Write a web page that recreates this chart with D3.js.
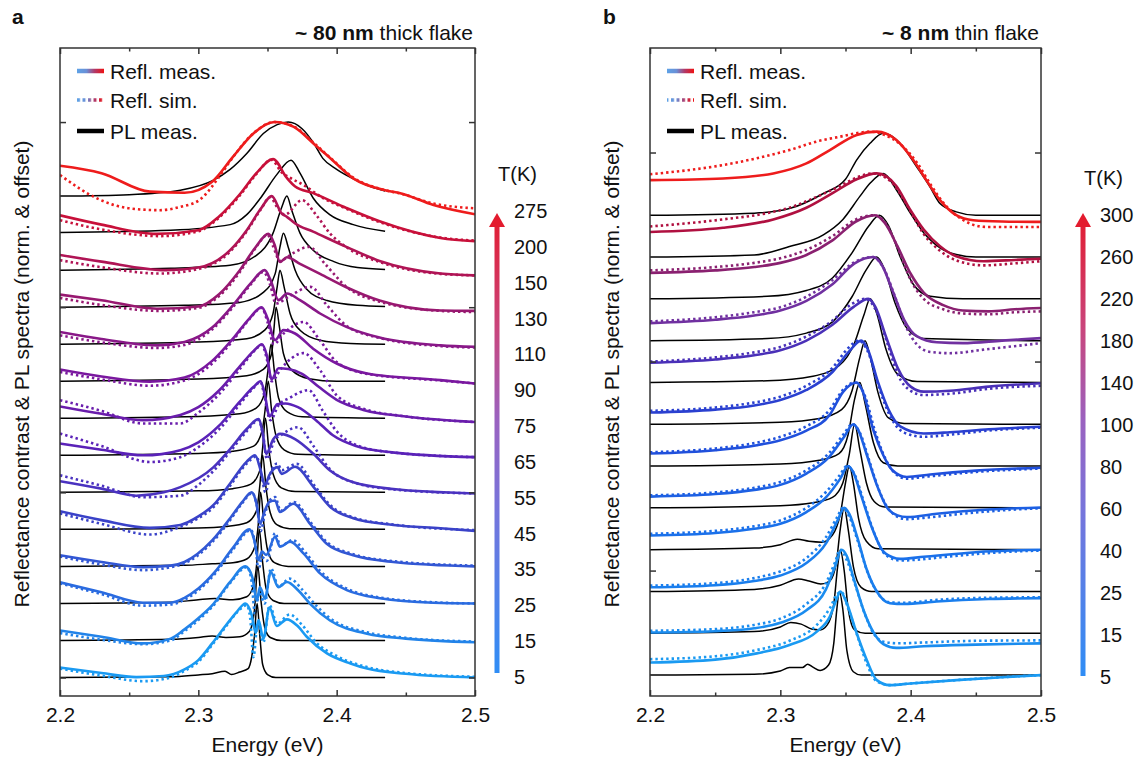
<!DOCTYPE html>
<html>
<head>
<meta charset="utf-8">
<title>Reflectance and PL vs temperature</title>
<style>
  body { margin: 0; background: #fff; }
  text { font-family: "Liberation Sans", Arial, sans-serif; }
</style>
</head>
<body>
<script src="https://cdn.jsdelivr.net/npm/d3@7"></script>
<script>
// ---- data: flat [E, value, E, value, ...] lists, value relative to each trace's offset ----
var energyTicks = [2.2, 2.3, 2.4, 2.5];
var energyMinor = [2.25, 2.35, 2.45];

// panel a: ~80 nm thick flake
var tempsA = [5, 15, 25, 35, 45, 55, 65, 75, 90, 110, 130, 150, 200, 275];
var reflMeasA = [
  [2.2,0.27, 2.23,0.12, 2.255,0.01, 2.275,0.04, 2.29,0.22, 2.30,0.47, 2.31,0.92, 2.32,1.41, 2.328,1.78, 2.334,2.0, 2.3385,1.7, 2.3415,1.2, 2.3435,1.55, 2.347,1.05, 2.3514,1.89, 2.3567,1.39, 2.364,1.57, 2.3712,1.41, 2.3784,1.1, 2.393,0.65, 2.41,0.38, 2.422,0.24, 2.45,0.1, 2.5,0.0],
  [2.2,0.27, 2.23,0.1, 2.26,-0.08, 2.28,0.05, 2.29,0.3, 2.30,0.6, 2.311,0.99, 2.323,1.58, 2.334,2.0, 2.339,1.71, 2.3424,1.08, 2.3445,1.44, 2.3482,1.13, 2.3523,1.85, 2.3579,1.44, 2.364,1.58, 2.3723,1.35, 2.3808,0.99, 2.3952,0.54, 2.422,0.18, 2.45,0.05, 2.5,-0.05],
  [2.2,0.57, 2.23,0.3, 2.26,0.02, 2.28,0.02, 2.29,0.15, 2.30,0.4, 2.312,0.85, 2.325,1.5, 2.337,2.0, 2.3405,1.7, 2.3435,1.17, 2.346,1.4, 2.349,1.31, 2.3555,1.8, 2.3591,1.53, 2.3663,1.67, 2.376,1.35, 2.388,0.81, 2.4073,0.36, 2.4314,0.14, 2.47,0.02, 2.5,0.0],
  [2.2,0.3, 2.23,0.12, 2.26,-0.02, 2.28,0.02, 2.29,0.12, 2.31,0.7, 2.323,1.3, 2.332,1.75, 2.3386,2.0, 2.342,1.7, 2.3446,1.15, 2.348,1.5, 2.3514,1.74, 2.3555,1.78, 2.359,1.47, 2.3687,1.69, 2.3808,1.15, 2.3928,0.61, 2.412,0.3, 2.441,0.12, 2.5,0.0],
  [2.2,0.49, 2.23,0.25, 2.265,0.04, 2.287,0.12, 2.30,0.35, 2.311,0.66, 2.323,1.24, 2.335,1.83, 2.341,2.0, 2.345,1.6, 2.348,1.2, 2.3514,1.47, 2.3571,1.68, 2.3603,1.5, 2.3699,1.69, 2.3832,1.15, 2.3952,0.61, 2.412,0.3, 2.441,0.12, 2.475,0.03, 2.5,-0.04],
  [2.2,0.30, 2.23,0.1, 2.255,-0.09, 2.275,0.0, 2.287,0.14, 2.311,0.68, 2.323,1.17, 2.335,1.71, 2.3435,1.98, 2.3465,1.6, 2.349,1.04, 2.3543,1.44, 2.3591,1.58, 2.3699,1.44, 2.3832,1.04, 2.3952,0.59, 2.412,0.27, 2.441,0.09, 2.5,-0.03],
  [2.2,0.32, 2.23,0.15, 2.26,0.0, 2.287,0.14, 2.30,0.35, 2.315,0.8, 2.33,1.45, 2.34,1.85, 2.345,2.0, 2.348,1.65, 2.3515,1.05, 2.357,1.38, 2.363,1.4, 2.372,1.3, 2.385,0.95, 2.397,0.55, 2.414,0.25, 2.44,0.08, 2.5,-0.05],
  [2.2,0.32, 2.23,0.12, 2.26,-0.05, 2.287,0.09, 2.30,0.3, 2.315,0.75, 2.33,1.4, 2.34,1.82, 2.346,2.0, 2.3495,1.7, 2.353,1.05, 2.358,1.35, 2.365,1.33, 2.375,1.2, 2.387,0.85, 2.4,0.5, 2.42,0.22, 2.45,0.05, 2.5,-0.1],
  [2.2,0.32, 2.23,0.13, 2.265,-0.01, 2.29,0.1, 2.31,0.55, 2.325,1.15, 2.337,1.7, 2.3458,2.0, 2.35,1.7, 2.3555,1.11, 2.3615,1.38, 2.3699,1.29, 2.383,0.88, 2.40,0.48, 2.422,0.21, 2.475,0.03, 2.5,-0.06],
  [2.2,0.33, 2.23,0.14, 2.27,-0.03, 2.29,0.06, 2.31,0.45, 2.325,1.05, 2.338,1.65, 2.348,2.0, 2.352,1.75, 2.358,1.19, 2.364,1.37, 2.3735,1.19, 2.388,0.83, 2.407,0.47, 2.431,0.18, 2.475,-0.03, 2.5,-0.07],
  [2.2,0.34, 2.23,0.19, 2.27,-0.04, 2.30,0.02, 2.315,0.35, 2.33,1.0, 2.341,1.6, 2.3507,1.98, 2.355,1.7, 2.359,1.22, 2.364,1.35, 2.3735,1.17, 2.388,0.9, 2.407,0.54, 2.431,0.18, 2.475,-0.09, 2.5,-0.1],
  [2.2,0.41, 2.23,0.23, 2.277,0.0, 2.30,0.07, 2.323,0.54, 2.335,1.08, 2.345,1.65, 2.353,2.0, 2.3603,1.53, 2.364,1.44, 2.37,1.26, 2.383,1.04, 2.407,0.63, 2.431,0.25, 2.475,-0.09, 2.5,-0.14],
  [2.2,0.48, 2.23,0.23, 2.27,-0.02, 2.30,0.08, 2.315,0.45, 2.33,1.05, 2.342,1.62, 2.354,2.0, 2.364,1.49, 2.37,1.26, 2.383,1.08, 2.407,0.68, 2.431,0.32, 2.475,-0.13, 2.5,-0.22],
  [2.2,0.82, 2.23,0.62, 2.265,0.12, 2.29,0.09, 2.31,0.39, 2.325,1.06, 2.34,1.7, 2.355,2.0, 2.369,1.87, 2.383,1.43, 2.397,0.97, 2.412,0.48, 2.435,0.16, 2.446,0.08, 2.47,-0.24, 2.5,-0.49]
];
var reflSimA = [
  [2.2,0.24, 2.23,0.05, 2.26,-0.1, 2.28,0.0, 2.29,0.18, 2.30,0.42, 2.31,0.88, 2.32,1.38, 2.328,1.76, 2.335,1.95, 2.3375,1.6, 2.3398,0.55, 2.343,1.5, 2.347,0.95, 2.3515,1.95, 2.357,1.45, 2.366,1.7, 2.375,1.42, 2.385,0.95, 2.40,0.58, 2.422,0.28, 2.45,0.12, 2.5,0.02],
  [2.2,0.2, 2.23,0.02, 2.26,-0.1, 2.28,0.0, 2.29,0.25, 2.30,0.55, 2.311,0.95, 2.323,1.55, 2.335,1.98, 2.3385,1.6, 2.341,0.7, 2.344,1.3, 2.348,1.0, 2.3525,1.95, 2.358,1.45, 2.366,1.67, 2.375,1.38, 2.385,0.95, 2.3952,0.6, 2.422,0.22, 2.45,0.07, 2.5,-0.03],
  [2.2,0.54, 2.23,0.25, 2.26,-0.06, 2.28,-0.03, 2.29,0.1, 2.30,0.35, 2.312,0.8, 2.325,1.45, 2.338,1.98, 2.3415,1.5, 2.3435,0.9, 2.346,1.25, 2.3495,1.15, 2.3555,1.9, 2.3595,1.55, 2.368,1.71, 2.378,1.35, 2.388,0.88, 2.4073,0.4, 2.4314,0.16, 2.47,0.03, 2.5,0.0],
  [2.2,0.27, 2.23,0.05, 2.26,-0.1, 2.28,-0.02, 2.29,0.08, 2.31,0.65, 2.323,1.25, 2.332,1.72, 2.339,1.98, 2.3425,1.6, 2.345,0.95, 2.348,1.4, 2.352,1.8, 2.3555,1.87, 2.3595,1.5, 2.369,1.74, 2.381,1.2, 2.3928,0.66, 2.412,0.33, 2.441,0.14, 2.5,0.02],
  [2.2,0.43, 2.23,0.15, 2.265,-0.14, 2.287,0.07, 2.30,0.3, 2.311,0.6, 2.323,1.18, 2.335,1.78, 2.342,1.97, 2.3455,1.5, 2.3485,1.0, 2.352,1.5, 2.357,1.78, 2.3605,1.6, 2.371,1.77, 2.3832,1.22, 2.3952,0.66, 2.412,0.32, 2.441,0.13, 2.5,-0.02],
  [2.2,0.46, 2.23,0.18, 2.26,-0.13, 2.287,-0.09, 2.30,0.2, 2.311,0.58, 2.323,1.1, 2.335,1.65, 2.3435,1.95, 2.347,1.5, 2.3495,0.9, 2.355,1.4, 2.36,1.55, 2.372,1.76, 2.3832,1.25, 2.3952,0.62, 2.412,0.27, 2.441,0.08, 2.5,-0.03],
  [2.2,0.59, 2.23,0.25, 2.265,-0.18, 2.287,-0.05, 2.30,0.22, 2.315,0.7, 2.33,1.38, 2.34,1.82, 2.345,1.98, 2.348,1.55, 2.352,0.95, 2.358,1.35, 2.366,1.55, 2.3796,1.76, 2.39,1.2, 2.4,0.65, 2.414,0.28, 2.44,0.08, 2.5,-0.05],
  [2.2,0.49, 2.23,0.2, 2.26,-0.14, 2.287,-0.14, 2.30,0.15, 2.315,0.65, 2.33,1.33, 2.34,1.8, 2.346,1.98, 2.3495,1.6, 2.353,1.0, 2.36,1.35, 2.376,1.76, 2.388,1.3, 2.4,0.62, 2.42,0.25, 2.45,0.05, 2.5,-0.1],
  [2.2,0.25, 2.23,0.05, 2.265,-0.12, 2.29,0.02, 2.31,0.48, 2.325,1.1, 2.337,1.68, 2.3458,1.98, 2.35,1.6, 2.3545,1.0, 2.362,1.3, 2.376,1.6, 2.388,1.1, 2.40,0.52, 2.422,0.2, 2.475,0.02, 2.5,-0.06],
  [2.2,0.24, 2.23,0.05, 2.27,-0.1, 2.29,-0.02, 2.31,0.4, 2.325,1.0, 2.338,1.62, 2.347,1.95, 2.352,1.6, 2.356,1.1, 2.366,1.3, 2.381,1.55, 2.393,1.05, 2.407,0.5, 2.431,0.17, 2.475,-0.05, 2.5,-0.09],
  [2.2,0.25, 2.23,0.06, 2.272,-0.1, 2.30,-0.02, 2.315,0.3, 2.33,0.95, 2.341,1.58, 2.35,1.95, 2.354,1.65, 2.359,1.25, 2.368,1.45, 2.38,1.63, 2.392,1.15, 2.407,0.55, 2.431,0.15, 2.475,-0.1, 2.5,-0.13],
  [2.2,0.27, 2.23,0.08, 2.272,-0.09, 2.30,0.03, 2.323,0.5, 2.335,1.05, 2.345,1.63, 2.352,1.97, 2.357,1.7, 2.3625,1.5, 2.375,1.89, 2.385,1.5, 2.395,1.0, 2.41,0.55, 2.431,0.22, 2.475,-0.1, 2.5,-0.14],
  [2.2,0.35, 2.23,0.1, 2.272,-0.08, 2.30,0.05, 2.315,0.42, 2.33,1.02, 2.342,1.6, 2.353,1.98, 2.36,1.65, 2.366,1.5, 2.376,1.3, 2.39,0.95, 2.407,0.66, 2.431,0.3, 2.475,-0.12, 2.5,-0.2],
  [2.2,0.57, 2.229,-0.1, 2.25,-0.33, 2.272,-0.38, 2.287,-0.29, 2.301,-0.1, 2.316,0.57, 2.325,1.05, 2.34,1.7, 2.355,2.0, 2.369,1.88, 2.383,1.45, 2.397,0.98, 2.412,0.5, 2.435,0.16, 2.446,0.07, 2.47,-0.2, 2.5,-0.33]
];
var plA = [
  [2.2,0, 2.28,0.02, 2.30,0.07, 2.31,0.1, 2.3193,0.17, 2.324,0.08, 2.33,0.15, 2.336,0.24, 2.3386,0.56, 2.3405,1.1, 2.3425,2.0, 2.3445,1.1, 2.3465,0.35, 2.35,0.08, 2.356,0.0, 2.435,0],
  [2.2,0, 2.28,0.03, 2.30,0.08, 2.31,0.12, 2.32,0.08, 2.33,0.1, 2.337,0.25, 2.3405,0.8, 2.343,2.0, 2.3455,1.0, 2.348,0.35, 2.352,0.08, 2.36,0, 2.435,0],
  [2.2,0, 2.28,0.03, 2.30,0.1, 2.312,0.13, 2.325,0.1, 2.335,0.18, 2.34,0.5, 2.3425,1.2, 2.344,2.0, 2.3465,1.1, 2.349,0.4, 2.354,0.08, 2.362,0, 2.435,0],
  [2.2,0, 2.29,0.03, 2.31,0.07, 2.325,0.1, 2.335,0.2, 2.341,0.55, 2.3435,1.2, 2.345,2.0, 2.3475,1.1, 2.35,0.45, 2.355,0.1, 2.365,0.0, 2.435,0],
  [2.2,0, 2.30,0.04, 2.32,0.08, 2.335,0.18, 2.342,0.5, 2.3445,1.2, 2.3465,2.0, 2.349,1.1, 2.352,0.45, 2.357,0.12, 2.366,0.02, 2.435,0],
  [2.2,0, 2.30,0.04, 2.325,0.1, 2.338,0.22, 2.3445,0.6, 2.3465,1.2, 2.3485,2.0, 2.351,1.15, 2.354,0.5, 2.36,0.12, 2.37,0.02, 2.435,0],
  [2.2,0, 2.30,0.05, 2.325,0.11, 2.34,0.25, 2.346,0.65, 2.3485,1.3, 2.3505,2.0, 2.353,1.2, 2.356,0.55, 2.362,0.15, 2.372,0.03, 2.435,0],
  [2.2,0, 2.30,0.05, 2.33,0.12, 2.342,0.28, 2.348,0.7, 2.3505,1.35, 2.3525,2.0, 2.3552,1.2, 2.358,0.55, 2.364,0.18, 2.375,0.04, 2.435,0],
  [2.2,0, 2.30,0.06, 2.335,0.15, 2.347,0.32, 2.353,0.75, 2.3548,1.47, 2.3562,2.0, 2.3586,1.47, 2.3615,0.75, 2.3675,0.3, 2.38,0.07, 2.40,0.0, 2.435,0],
  [2.2,0, 2.30,0.06, 2.335,0.15, 2.348,0.38, 2.354,0.83, 2.357,1.55, 2.359,2.0, 2.362,1.55, 2.3663,0.83, 2.3735,0.38, 2.388,0.11, 2.41,0.02, 2.435,0],
  [2.2,0, 2.29,0.05, 2.33,0.13, 2.347,0.4, 2.3555,0.9, 2.359,1.62, 2.3615,2.0, 2.365,1.62, 2.37,1.0, 2.378,0.5, 2.393,0.18, 2.415,0.05, 2.435,0.02],
  [2.2,0, 2.28,0.05, 2.323,0.13, 2.342,0.4, 2.354,1.0, 2.3603,1.7, 2.364,2.0, 2.3675,1.62, 2.3735,1.0, 2.383,0.54, 2.398,0.23, 2.415,0.07, 2.435,0.02],
  [2.2,0.02, 2.28,0.08, 2.323,0.23, 2.335,0.5, 2.345,0.95, 2.3567,1.58, 2.367,1.97, 2.3735,1.62, 2.383,0.95, 2.395,0.5, 2.412,0.23, 2.435,0.05],
  [2.2,0.0, 2.25,0.04, 2.287,0.16, 2.311,0.43, 2.323,0.72, 2.335,1.15, 2.347,1.69, 2.357,1.93, 2.365,2.0, 2.375,1.82, 2.383,1.45, 2.39,1.02, 2.40,0.72, 2.414,0.43, 2.425,0.25, 2.435,0.14]
];

// panel b: ~8 nm thin flake
var tempsB = [5, 15, 25, 40, 60, 80, 100, 140, 180, 220, 260, 300];
var reflMeasB = [
  [2.2,0.3, 2.25,0.37, 2.282,0.52, 2.307,0.72, 2.328,1.04, 2.338,1.4, 2.343,1.8, 2.346,2.0, 2.351,1.72, 2.3586,1.0, 2.3663,0.36, 2.374,-0.12, 2.384,-0.24, 2.40,-0.2, 2.435,-0.12, 2.47,-0.05, 2.5,0.0],
  [2.2,0.02, 2.25,0.05, 2.28,0.12, 2.30,0.25, 2.32,0.55, 2.335,1.05, 2.342,1.6, 2.347,2.0, 2.351,1.85, 2.356,1.34, 2.364,0.54, 2.3715,0.02, 2.379,-0.26, 2.389,-0.35, 2.41,-0.31, 2.45,-0.27, 2.5,-0.24],
  [2.2,0.1, 2.25,0.15, 2.28,0.25, 2.30,0.38, 2.32,0.68, 2.335,1.15, 2.344,1.7, 2.349,2.0, 2.353,1.85, 2.359,1.3, 2.366,0.55, 2.374,0.0, 2.384,-0.28, 2.395,-0.3, 2.42,-0.24, 2.46,-0.18, 2.5,-0.16],
  [2.2,0.34, 2.25,0.4, 2.28,0.5, 2.30,0.62, 2.32,0.9, 2.335,1.25, 2.346,1.7, 2.352,2.0, 2.356,1.85, 2.362,1.3, 2.37,0.55, 2.378,0.0, 2.386,-0.18, 2.392,-0.22, 2.41,-0.17, 2.45,-0.06, 2.5,0.0],
  [2.2,0.27, 2.25,0.33, 2.28,0.43, 2.30,0.55, 2.32,0.82, 2.337,1.2, 2.349,1.7, 2.356,2.0, 2.36,1.85, 2.366,1.3, 2.374,0.55, 2.382,0.0, 2.39,-0.18, 2.397,-0.22, 2.42,-0.14, 2.46,-0.04, 2.5,0.01],
  [2.2,0.3, 2.25,0.38, 2.282,0.5, 2.30,0.62, 2.32,0.85, 2.338,1.23, 2.348,1.77, 2.3586,2.0, 2.363,1.8, 2.3715,0.85, 2.379,0.26, 2.386,-0.1, 2.397,-0.26, 2.415,-0.2, 2.45,-0.11, 2.5,-0.04],
  [2.2,0.28, 2.25,0.35, 2.28,0.45, 2.30,0.58, 2.32,0.82, 2.34,1.25, 2.353,1.75, 2.362,2.0, 2.367,1.8, 2.375,1.0, 2.383,0.35, 2.392,-0.05, 2.41,-0.22, 2.43,-0.19, 2.46,-0.12, 2.5,-0.06],
  [2.2,0.47, 2.25,0.55, 2.28,0.65, 2.30,0.77, 2.32,1.0, 2.34,1.38, 2.356,1.8, 2.3675,2.0, 2.373,1.8, 2.381,1.1, 2.39,0.35, 2.40,-0.1, 2.41,-0.22, 2.43,-0.2, 2.46,-0.1, 2.5,-0.02],
  [2.2,0.42, 2.25,0.5, 2.28,0.6, 2.30,0.72, 2.32,0.95, 2.34,1.35, 2.357,1.85, 2.3714,2.0, 2.378,1.8, 2.386,1.2, 2.395,0.5, 2.405,0.1, 2.42,-0.04, 2.44,-0.06, 2.47,0.0, 2.5,0.06],
  [2.2,0.62, 2.25,0.68, 2.28,0.76, 2.30,0.86, 2.32,1.05, 2.34,1.4, 2.358,1.85, 2.3726,2.0, 2.38,1.82, 2.39,1.25, 2.40,0.6, 2.41,0.15, 2.425,-0.15, 2.44,-0.28, 2.46,-0.3, 2.48,-0.25, 2.5,-0.22],
  [2.2,0.6, 2.256,0.7, 2.2946,0.9, 2.32,1.18, 2.3407,1.54, 2.3586,1.86, 2.374,2.0, 2.389,1.7, 2.3995,1.14, 2.41,0.66, 2.4225,0.26, 2.435,0.02, 2.456,-0.1, 2.48,-0.07, 2.5,-0.04],
  [2.2,0.84, 2.256,0.88, 2.2946,1.0, 2.32,1.24, 2.338,1.56, 2.3586,1.92, 2.374,2.0, 2.389,1.8, 2.402,1.32, 2.412,0.84, 2.4225,0.36, 2.435,0.0, 2.448,-0.12, 2.47,-0.15, 2.5,-0.16]
];
var reflSimB = [
  [2.2,0.38, 2.25,0.45, 2.282,0.6, 2.307,0.82, 2.328,1.2, 2.338,1.6, 2.344,1.95, 2.347,1.98, 2.352,1.6, 2.359,0.95, 2.366,0.3, 2.374,-0.15, 2.384,-0.24, 2.40,-0.2, 2.435,-0.12, 2.47,-0.05, 2.5,0.0],
  [2.2,0.06, 2.25,0.1, 2.28,0.2, 2.30,0.35, 2.32,0.7, 2.335,1.2, 2.342,1.7, 2.346,2.0, 2.351,1.75, 2.357,1.2, 2.365,0.45, 2.3715,0.0, 2.379,-0.2, 2.39,-0.24, 2.41,-0.22, 2.45,-0.18, 2.5,-0.17],
  [2.2,0.14, 2.25,0.2, 2.28,0.32, 2.30,0.48, 2.32,0.8, 2.335,1.3, 2.344,1.8, 2.348,2.0, 2.353,1.78, 2.36,1.15, 2.367,0.45, 2.375,-0.05, 2.384,-0.26, 2.395,-0.27, 2.42,-0.2, 2.46,-0.15, 2.5,-0.14],
  [2.2,0.38, 2.25,0.45, 2.28,0.56, 2.30,0.7, 2.32,1.0, 2.335,1.38, 2.346,1.8, 2.351,2.0, 2.357,1.8, 2.364,1.15, 2.372,0.4, 2.38,-0.1, 2.392,-0.26, 2.405,-0.24, 2.43,-0.16, 2.47,-0.06, 2.5,-0.02],
  [2.2,0.3, 2.25,0.37, 2.28,0.48, 2.30,0.62, 2.32,0.9, 2.337,1.3, 2.349,1.78, 2.355,2.0, 2.361,1.8, 2.368,1.15, 2.376,0.4, 2.385,-0.1, 2.397,-0.27, 2.41,-0.24, 2.44,-0.14, 2.48,-0.04, 2.5,-0.01],
  [2.2,0.33, 2.25,0.42, 2.282,0.56, 2.30,0.7, 2.32,0.95, 2.338,1.35, 2.348,1.82, 2.357,2.0, 2.364,1.75, 2.373,0.8, 2.381,0.15, 2.389,-0.2, 2.397,-0.3, 2.41,-0.26, 2.45,-0.14, 2.5,-0.06],
  [2.2,0.32, 2.25,0.4, 2.28,0.52, 2.30,0.66, 2.32,0.92, 2.34,1.35, 2.352,1.82, 2.36,2.0, 2.367,1.75, 2.376,0.85, 2.385,0.15, 2.395,-0.2, 2.41,-0.3, 2.43,-0.25, 2.46,-0.15, 2.5,-0.08],
  [2.2,0.5, 2.25,0.6, 2.28,0.72, 2.30,0.85, 2.32,1.1, 2.34,1.48, 2.355,1.88, 2.365,2.0, 2.373,1.75, 2.382,0.95, 2.39,0.2, 2.40,-0.2, 2.41,-0.3, 2.43,-0.27, 2.46,-0.15, 2.5,-0.08],
  [2.2,0.46, 2.25,0.56, 2.28,0.68, 2.30,0.8, 2.32,1.05, 2.34,1.45, 2.357,1.88, 2.371,2.0, 2.379,1.75, 2.388,1.05, 2.397,0.3, 2.405,-0.1, 2.415,-0.27, 2.43,-0.3, 2.46,-0.2, 2.5,-0.06],
  [2.2,0.68, 2.25,0.76, 2.28,0.86, 2.30,0.97, 2.32,1.17, 2.34,1.5, 2.358,1.9, 2.372,2.0, 2.381,1.8, 2.391,1.15, 2.40,0.45, 2.41,0.0, 2.425,-0.25, 2.44,-0.35, 2.46,-0.37, 2.48,-0.32, 2.5,-0.3],
  [2.2,0.73, 2.256,0.9, 2.2946,1.08, 2.307,1.18, 2.325,1.4, 2.346,1.7, 2.36,1.92, 2.37,2.0, 2.385,1.8, 2.397,1.25, 2.41,0.55, 2.4225,0.15, 2.435,-0.08, 2.456,-0.2, 2.48,-0.15, 2.5,-0.1],
  [2.2,0.98, 2.256,1.2, 2.307,1.56, 2.33,1.78, 2.346,1.88, 2.36,1.97, 2.369,2.0, 2.38,1.92, 2.392,1.7, 2.405,1.25, 2.415,0.75, 2.425,0.3, 2.437,-0.05, 2.458,-0.28, 2.48,-0.28, 2.5,-0.28]
];
var plB = [
  [2.2,0, 2.28,0.02, 2.30,0.1, 2.307,0.18, 2.317,0.18, 2.321,0.26, 2.325,0.19, 2.3305,0.11, 2.337,0.24, 2.341,0.76, 2.3433,1.56, 2.3453,2.0, 2.348,1.56, 2.351,0.6, 2.356,0.08, 2.362,0, 2.5,0],
  [2.2,0, 2.28,0.04, 2.30,0.15, 2.308,0.26, 2.316,0.22, 2.324,0.1, 2.3305,0.08, 2.336,0.2, 2.341,0.7, 2.344,1.6, 2.346,2.0, 2.349,1.5, 2.352,0.6, 2.357,0.08, 2.365,0, 2.5,0],
  [2.2,0, 2.28,0.05, 2.30,0.15, 2.314,0.3, 2.322,0.25, 2.331,0.18, 2.338,0.25, 2.343,0.7, 2.346,1.5, 2.349,2.0, 2.352,1.5, 2.356,0.6, 2.362,0.1, 2.37,0, 2.5,0],
  [2.2,0, 2.28,0.04, 2.30,0.12, 2.313,0.25, 2.322,0.2, 2.332,0.18, 2.34,0.35, 2.346,0.85, 2.35,1.6, 2.353,2.0, 2.356,1.6, 2.36,0.75, 2.366,0.2, 2.375,0.02, 2.5,0],
  [2.2,0, 2.30,0.05, 2.325,0.12, 2.34,0.25, 2.348,0.6, 2.353,1.3, 2.357,2.0, 2.361,1.4, 2.366,0.6, 2.372,0.15, 2.38,0.02, 2.5,0],
  [2.2,0, 2.30,0.05, 2.33,0.14, 2.345,0.3, 2.352,0.75, 2.357,1.6, 2.361,2.0, 2.365,1.5, 2.3715,0.55, 2.379,0.08, 2.39,0, 2.5,0],
  [2.2,0, 2.30,0.05, 2.33,0.14, 2.347,0.35, 2.355,0.8, 2.361,1.6, 2.365,2.0, 2.369,1.6, 2.375,0.75, 2.383,0.15, 2.395,0.02, 2.5,0],
  [2.2,0, 2.29,0.04, 2.325,0.15, 2.345,0.4, 2.357,0.95, 2.364,1.6, 2.369,2.0, 2.374,1.65, 2.381,0.8, 2.39,0.2, 2.405,0.02, 2.5,0],
  [2.2,0, 2.29,0.05, 2.32,0.18, 2.34,0.45, 2.355,1.05, 2.366,1.7, 2.374,2.0, 2.38,1.7, 2.388,0.9, 2.397,0.3, 2.41,0.05, 2.5,0],
  [2.2,0, 2.29,0.06, 2.32,0.2, 2.34,0.5, 2.355,1.1, 2.368,1.75, 2.376,2.0, 2.383,1.75, 2.392,1.0, 2.402,0.35, 2.415,0.06, 2.44,0, 2.5,0],
  [2.2,0, 2.28,0.05, 2.307,0.25, 2.333,0.53, 2.348,0.9, 2.361,1.45, 2.369,1.77, 2.379,2.0, 2.389,1.61, 2.3995,1.06, 2.41,0.58, 2.4225,0.22, 2.435,0.06, 2.45,0, 2.5,0],
  [2.2,0, 2.28,0.05, 2.307,0.16, 2.333,0.52, 2.35,0.86, 2.3585,1.32, 2.3688,1.72, 2.379,1.96, 2.384,1.92, 2.394,1.64, 2.4046,1.16, 2.4148,0.68, 2.4225,0.28, 2.435,0.08, 2.45,0, 2.5,0]
];

// ---- drawing ----
var W = 1146, H = 757, TOP = 48, BOTTOM = 696;
var FONT = '"Liberation Sans", Arial, sans-serif';

var svg = d3.select("body").append("svg").attr("width", W).attr("height", H);
var defs = svg.append("defs");

function pairs(a) {
  var out = [];
  for (var i = 0; i < a.length; i += 2) out.push([a[i], a[i + 1]]);
  return out;
}

// legend swatch gradients
function hGrad(id) {
  var g = defs.append("linearGradient").attr("id", id).attr("x1", "0%").attr("x2", "100%");
  g.append("stop").attr("offset", "0%").attr("stop-color", "#5ea2e6");
  g.append("stop").attr("offset", "35%").attr("stop-color", "#6a8fd6");
  g.append("stop").attr("offset", "65%").attr("stop-color", "#b03a6a");
  g.append("stop").attr("offset", "100%").attr("stop-color", "#ee1111");
}
hGrad("legGrad");

function drawPanel(p) {
  var x = d3.scaleLinear().domain([2.2, 2.5]).range([p.x0, p.x1]);
  var y = d3.scaleLinear().domain([-0.5, p.yMax]).range([BOTTOM, TOP]);
  var color = d3.scaleLinear().domain(p.colorAt).range(p.colorStops).interpolate(d3.interpolateRgb);

  defs.append("clipPath").attr("id", "clip" + p.key)
    .append("rect").attr("x", p.x0).attr("y", TOP).attr("width", p.x1 - p.x0).attr("height", BOTTOM - TOP);

  var plot = svg.append("g").attr("clip-path", "url(#clip" + p.key + ")");

  function lineAt(off) {
    return d3.line().x(function (d) { return x(d[0]); })
      .y(function (d) { return y(d[1] + off); })
      .curve(d3.curveMonotoneX);
  }

  for (var i = p.temps.length - 1; i >= 0; i--) {
    plot.append("path").datum(pairs(p.pl[i])).attr("d", lineAt(i))
      .attr("fill", "none").attr("stroke", "#000").attr("stroke-width", 1.5);
    plot.append("path").datum(pairs(p.sim[i])).attr("d", lineAt(i))
      .attr("fill", "none").attr("stroke", color(i)).attr("stroke-width", 2.6)
      .attr("stroke-dasharray", "2.4 3");
    plot.append("path").datum(pairs(p.meas[i])).attr("d", lineAt(i))
      .attr("fill", "none").attr("stroke", color(i)).attr("stroke-width", 2.6);
  }

  // frame
  svg.append("rect").attr("x", p.x0).attr("y", TOP).attr("width", p.x1 - p.x0).attr("height", BOTTOM - TOP)
    .attr("fill", "none").attr("stroke", "#333").attr("stroke-width", 1.5);

  function styleAxis(g) {
    g.select(".domain").remove();
    g.attr("color", "#333").attr("font-family", FONT).attr("font-size", 21);
    g.selectAll("line").attr("stroke-width", 1.5);
    g.selectAll("text").attr("fill", "#111");
  }
  svg.append("g").attr("transform", "translate(0," + BOTTOM + ")")
    .call(d3.axisBottom(x).tickValues(energyTicks).tickSize(-6).tickPadding(11).tickFormat(d3.format(".1f")))
    .call(styleAxis);
  svg.append("g").attr("transform", "translate(0," + BOTTOM + ")")
    .call(d3.axisBottom(x).tickValues(energyMinor).tickSize(-3.5).tickFormat(""))
    .call(styleAxis);
  svg.append("g").attr("transform", "translate(0," + TOP + ")")
    .call(d3.axisTop(x).tickValues(energyTicks).tickSize(-6).tickFormat(""))
    .call(styleAxis);
  svg.append("g").attr("transform", "translate(0," + TOP + ")")
    .call(d3.axisTop(x).tickValues(energyMinor).tickSize(-3.5).tickFormat(""))
    .call(styleAxis);
  svg.append("g").attr("transform", "translate(" + p.x0 + ",0)")
    .call(d3.axisLeft(y).tickValues(p.yTicks).tickSize(-6).tickFormat(""))
    .call(styleAxis);
  svg.append("g").attr("transform", "translate(" + p.x1 + ",0)")
    .call(d3.axisRight(y).tickValues(p.yTicks).tickSize(-6).tickFormat(""))
    .call(styleAxis);

  // axis titles
  svg.append("text").attr("x", (p.x0 + p.x1) / 2).attr("y", 752).attr("text-anchor", "middle")
    .attr("font-size", 21).attr("fill", "#111").text("Energy (eV)");
  svg.append("text").attr("transform", "translate(" + p.yLabelX + "," + 374 + ") rotate(-90)")
    .attr("text-anchor", "middle").attr("font-size", 21).attr("fill", "#111")
    .text("Reflectance contrast & PL spectra (norm. & offset)");

  // panel letter and title
  svg.append("text").attr("x", p.letterX).attr("y", 24).attr("font-size", 21).attr("font-weight", "bold")
    .attr("fill", "#111").text(p.letter);
  var t = svg.append("text").attr("x", p.x1 - 2).attr("y", 40).attr("text-anchor", "end")
    .attr("font-size", 21).attr("fill", "#111");
  t.append("tspan").attr("font-weight", "bold").text(p.titleBold);
  t.append("tspan").text(p.titleRest);

  // legend
  var leg = [
    { label: "Refl. meas.", stroke: "url(#legGrad)", dash: null, w: 4.5 },
    { label: "Refl. sim.", stroke: "url(#legGrad)", dash: "3 3", w: 3.5 },
    { label: "PL meas.", stroke: "#000", dash: null, w: 4.5 }
  ];
  leg.forEach(function (d, k) {
    var ly = [71, 100, 131][k];
    svg.append("rect").attr("x", p.x0 + 17).attr("y", ly - d.w / 2).attr("width", 27).attr("height", d.w)
      .attr("fill", d.stroke).attr("mask", d.dash ? "url(#dashMask)" : null);
    svg.append("text").attr("x", p.x0 + 50).attr("y", ly + 7.5).attr("font-size", 21)
      .attr("fill", "#111").text(d.label);
  });

  // temperature arrow (colour bar)
  var gid = "cbar" + p.key;
  var cg = defs.append("linearGradient").attr("id", gid)
    .attr("gradientUnits", "userSpaceOnUse").attr("x1", 0).attr("x2", 0)
    .attr("y1", p.cbBottom).attr("y2", p.cbTip);
  [["0%", "#2f8df5"], ["35%", "#7575dc"], ["55%", "#9a62c0"], ["75%", "#c9457c"], ["100%", "#e31b2e"]]
    .forEach(function (s) { cg.append("stop").attr("offset", s[0]).attr("stop-color", s[1]); });
  svg.append("rect").attr("x", p.cbX - 2.5).attr("y", p.cbTip + 12).attr("width", 5)
    .attr("height", p.cbBottom - p.cbTip - 12).attr("fill", "url(#" + gid + ")");
  svg.append("path")
    .attr("d", "M" + (p.cbX - 8) + "," + (p.cbTip + 14) + "L" + p.cbX + "," + p.cbTip + "L" + (p.cbX + 8) + "," + (p.cbTip + 14) + "Z")
    .attr("fill", "#e31b2e");
  var labY = d3.scalePoint().domain(p.temps.slice().reverse()).range([p.labTop, p.labBottom]);
  svg.append("text").attr("x", p.cbX + 1).attr("y", p.labTop - 30).attr("font-size", 20)
    .attr("fill", "#111").text("T(K)");
  p.temps.forEach(function (tv) {
    svg.append("text").attr("x", p.cbX + 17).attr("y", labY(tv) + 7).attr("font-size", 20)
      .attr("fill", "#111").text(tv);
  });
}

// dotted legend mask
var m = defs.append("pattern").attr("id", "dotPat").attr("patternUnits", "userSpaceOnUse")
  .attr("width", 5.5).attr("height", 10);
m.append("rect").attr("width", 3).attr("height", 10).attr("fill", "#fff");
defs.append("mask").attr("id", "dashMask").attr("maskUnits", "userSpaceOnUse")
  .attr("x", 0).attr("y", 0).attr("width", W).attr("height", H)
  .append("rect").attr("width", W).attr("height", H).attr("fill", "url(#dotPat)");

drawPanel({
  key: "a", x0: 60, x1: 475, yMax: 17.0, yTicks: [0, 5, 10, 15],
  temps: tempsA, meas: reflMeasA, sim: reflSimA, pl: plA,
  colorAt: [0, 2, 4, 6, 8, 10, 12, 13],
  colorStops: ["#1a9af2", "#2a6be0", "#3a42c8", "#5a22b8", "#7a189f", "#981870", "#c8103a", "#ee1c1c"],
  yLabelX: 29, letter: "a", letterX: 12, titleBold: "~ 80 nm", titleRest: " thick flake",
  cbX: 497, cbTip: 213, cbBottom: 673, labTop: 211, labBottom: 677
});
drawPanel({
  key: "b", x0: 650, x1: 1041, yMax: 15.0, yTicks: [2.5, 7.5, 12.5],
  temps: tempsB, meas: reflMeasB, sim: reflSimB, pl: plB,
  colorAt: [0, 3, 5, 6, 7, 8, 9, 10, 11],
  colorStops: ["#1a9af2", "#1a70ea", "#2050dc", "#2a40d0", "#4a30b8", "#7030a0", "#8a2070", "#b01040", "#ee1c1c"],
  yLabelX: 619, letter: "b", letterX: 603, titleBold: "~ 8 nm", titleRest: " thin flake",
  cbX: 1083, cbTip: 213, cbBottom: 676, labTop: 215, labBottom: 677
});
</script>
</body>
</html>
